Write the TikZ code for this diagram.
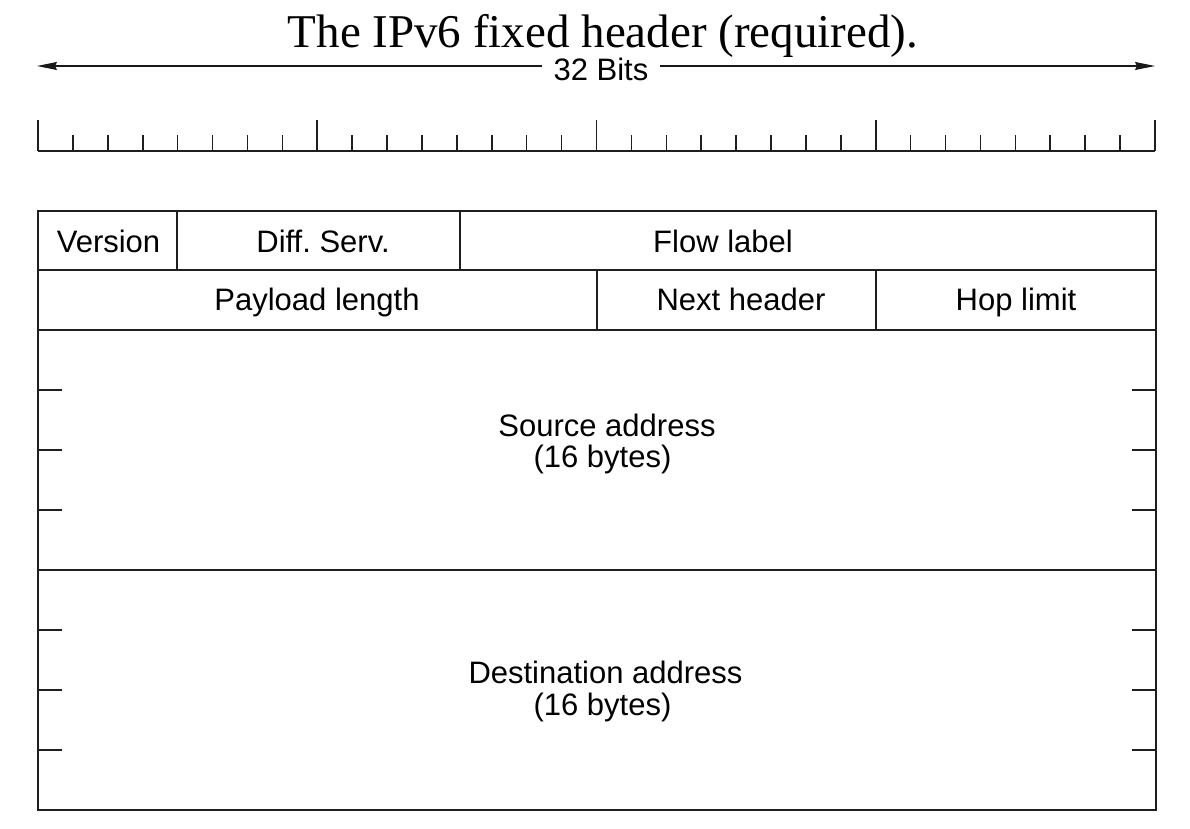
\documentclass[tikz,border=0pt]{standalone}
\usepackage{fontspec}
\setmainfont{Liberation Serif}
\setsansfont{Liberation Sans}
\usetikzlibrary{arrows.meta}
\frenchspacing
\begin{document}
\begin{tikzpicture}[x=1pt,y=-1pt,
  line/.style={draw=black!88, line width=1.5pt},
  cell/.style 2 args={line, inner sep=0pt, outer sep=0pt, anchor=north west,
    minimum width=#1pt, minimum height=#2pt},
  field/.style={font=\sffamily\fontsize{31}{37}\selectfont, inner sep=0pt, anchor=base},
  tick/.style={draw=black!88, line width=1.6pt}]
  \useasboundingbox (0,0) rectangle (1190,828);

  % title
  \node[font=\rmfamily\fontsize{47}{56}\selectfont, inner sep=0pt, anchor=base]
    (title) at (603,47) {The IPv6 fixed header (required).};

  % width arrow
  \coordinate (wl) at (37,66);
  \coordinate (wr) at (1155,66);
  \draw[draw=black!90, line width=1.2pt,
    {Stealth[length=20pt,width=8pt,inset=2pt]}-{Stealth[length=20pt,width=8pt,inset=2pt]}]
    (wl) -- (wr);
  \node[field, fill=white, inner xsep=12pt, inner ysep=0pt] (bits) at (601,80) {32 Bits};

  % bit ruler
  \coordinate (rl) at (38,151);
  \coordinate (rr) at (1155,151);
  \draw[tick] (rl) -- (rr);
  \foreach \i in {0,...,32}{
    \pgfmathsetmacro\xx{38+\i*34.90625}
    \pgfmathtruncatemacro\major{mod(\i,8)==0}
    \ifnum\major=1
      \draw[tick] (\xx,151) -- (\xx,120);
    \else
      \draw[tick] (\xx,151) -- (\xx,135);
    \fi
  }

  % header cells
  \node[cell={139}{59}]  (ver)  at (38,211)  {};
  \node[cell={283}{59}]  (ds)   at (177,211) {};
  \node[cell={696}{59}]  (flow) at (460,211) {};
  \node[cell={559}{60}]  (pay)  at (38,270)  {};
  \node[cell={279}{60}]  (next) at (597,270) {};
  \node[cell={280}{60}]  (hop)  at (876,270) {};
  \node[cell={1118}{240}] (src) at (38,330)  {};
  \node[cell={1118}{240}] (dst) at (38,570)  {};

  % field names
  \node[field] (tver)  at (108.5,252) {Version};
  \node[field] (tds)   at (323,252)   {Diff. Serv.};
  \node[field] (tflow) at (723,252)   {Flow label};
  \node[field] (tpay)  at (317,310)   {Payload length};
  \node[field] (tnext) at (741,310)   {Next header};
  \node[field] (thop)  at (1016,310)  {Hop limit};
  \node[field] (tsrc)  at (607,436)   {Source address};
  \node[field] (tsrcb) at (602.5,467) {(16 bytes)};
  \node[field] (tdst)  at (605.5,683) {Destination address};
  \node[field] (tdstb) at (602.5,715) {(16 bytes)};

  % 32-bit word marks inside the address fields
  \foreach \y in {390,450,510,630,690,750}{
    \draw[line] (38,\y) -- (62,\y);
    \draw[line] (1132,\y) -- (1156,\y);
  }
\end{tikzpicture}
\end{document}
